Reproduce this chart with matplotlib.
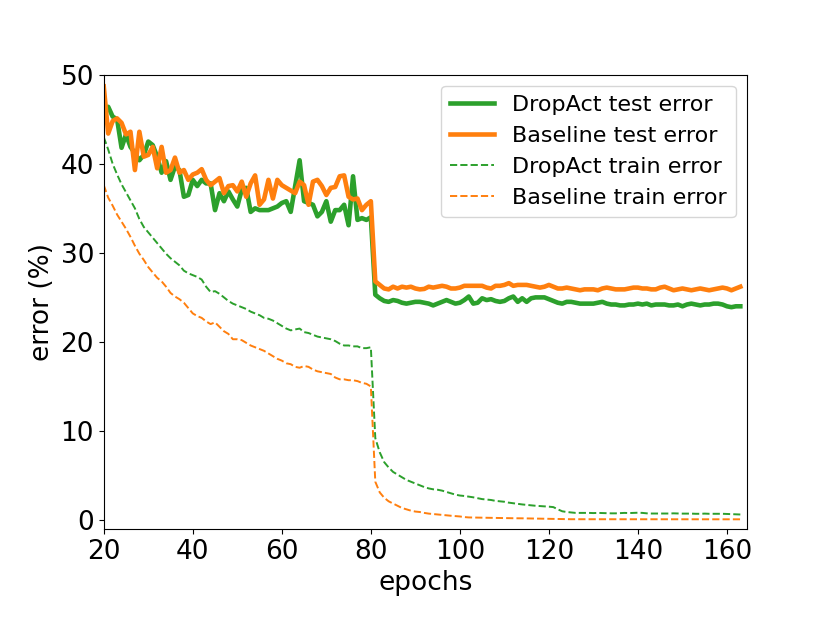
import matplotlib
matplotlib.use("Agg")
import matplotlib.pyplot as plt
import numpy as np

epochs = list(range(20, 164))

dropact_test = [
    45.5, 46.4, 45.3, 45.0, 41.8, 43.3, 41.9, 41.2, 40.4, 41.0,
    42.5, 42.1, 40.8, 39.0, 40.3, 38.2, 39.7, 39.3, 36.3, 36.5,
    38.2, 37.5, 38.2, 37.8, 37.8, 34.8, 36.7, 35.8, 36.9, 36.0,
    35.2, 37.1, 37.3, 34.6, 35.0, 34.8, 34.8, 34.8, 35.0, 35.2,
    35.6, 35.8, 34.6, 37.5, 40.4, 35.8, 35.6, 35.4, 34.1, 34.6,
    35.8, 33.5, 34.8, 34.8, 35.4, 33.1, 38.6, 33.7, 33.9, 33.7,
    34.0,
    25.3, 24.9, 24.6, 24.5, 24.7, 24.6, 24.4, 24.3, 24.4, 24.5,
    24.5, 24.4, 24.3, 24.1, 24.3, 24.5, 24.7, 24.5, 24.3, 24.4,
    24.7, 25.1, 24.3, 24.4, 24.9, 24.7, 24.8, 24.6, 24.5, 24.6,
    24.9, 25.1, 24.5, 24.9, 24.5, 24.9, 25.0, 25.0, 25.0, 24.8,
    24.6, 24.4, 24.3, 24.5, 24.5, 24.4, 24.3, 24.3, 24.3, 24.3,
    24.4, 24.5, 24.3, 24.2, 24.2, 24.1, 24.1, 24.2, 24.2, 24.3,
    24.2, 24.3, 24.1, 24.2, 24.2, 24.2, 24.1, 24.1, 24.2, 24.0,
    24.2, 24.3, 24.2, 24.1, 24.2, 24.2, 24.3, 24.3, 24.2, 24.0,
    23.9, 24.0, 24.0,
]

baseline_test = [
    48.7, 43.4, 44.8, 45.1, 44.6, 43.3, 43.6, 39.3, 43.6, 40.8,
    41.0, 41.9, 39.5, 41.9, 39.0, 39.3, 40.7, 39.0, 39.3, 38.2,
    38.8, 39.0, 39.4, 38.2, 37.6, 38.0, 38.4, 36.7, 37.5, 37.6,
    36.9, 38.0, 36.3, 37.8, 38.7, 35.4, 36.0, 38.2, 36.1, 38.2,
    37.6, 37.3, 37.0, 36.7, 38.0, 37.6, 35.4, 38.0, 38.2, 37.5,
    36.5, 37.3, 37.4, 38.6, 38.7, 36.3, 36.0, 36.1, 34.8, 35.4,
    35.8,
    26.8, 26.4, 26.0, 25.9, 26.2, 26.0, 26.2, 26.1, 26.2, 26.0,
    25.9, 25.95, 26.2, 26.1, 26.2, 26.3, 26.2, 26.0, 26.0, 26.1,
    26.3, 26.3, 26.3, 26.3, 26.3, 26.1, 26.0, 26.3, 26.3, 26.4,
    26.6, 26.3, 26.4, 26.4, 26.4, 26.3, 26.2, 26.1, 26.2, 26.4,
    26.2, 26.0, 26.0, 26.1, 26.0, 25.9, 25.8, 25.9, 25.9, 25.9,
    25.8, 26.0, 26.1, 26.0, 25.9, 25.9, 25.9, 26.0, 26.1, 26.1,
    26.0, 26.0, 25.9, 25.9, 26.1, 26.2, 26.0, 25.8, 25.9, 26.0,
    25.9, 25.8, 25.9, 26.0, 25.9, 25.8, 25.9, 26.0, 26.1, 26.0,
    25.8, 26.0, 26.2,
]

dropact_train = [
    43.0, 41.6, 40.0, 38.8, 37.7, 36.8, 35.9, 35.0, 33.8, 32.9,
    32.3, 31.7, 31.1, 30.5, 29.9, 29.4, 29.0, 28.6, 28.0, 27.7,
    27.5, 27.3, 27.0, 26.2, 25.6, 25.7, 25.4, 25.0, 24.6, 24.3,
    24.1, 23.9, 23.7, 23.4, 23.2, 23.0, 22.7, 22.6, 22.4, 22.1,
    21.8, 21.5, 21.3, 21.4, 21.5, 21.1, 21.0, 20.8, 20.6, 20.5,
    20.4, 20.3, 20.1, 19.8, 19.6, 19.6, 19.5, 19.5, 19.3, 19.3,
    19.4,
    9.2, 7.6, 6.5, 5.9, 5.4, 5.1, 4.8, 4.5, 4.3, 4.1,
    3.9, 3.7, 3.55, 3.45, 3.4, 3.3, 3.15, 3.0, 2.85, 2.75,
    2.7, 2.63, 2.55, 2.45, 2.35, 2.3, 2.25, 2.15, 2.1, 2.05,
    1.95, 1.88, 1.8, 1.75, 1.7, 1.65, 1.6, 1.57, 1.53, 1.5,
    1.45, 1.2, 0.98, 0.9, 0.85, 0.8, 0.8, 0.8, 0.8, 0.78,
    0.8, 0.78, 0.75, 0.75, 0.75, 0.78, 0.8, 0.78, 0.8, 0.82,
    0.8, 0.75, 0.73, 0.73, 0.73, 0.72, 0.73, 0.75, 0.73, 0.72,
    0.72, 0.72, 0.7, 0.7, 0.72, 0.7, 0.7, 0.7, 0.7, 0.68,
    0.65, 0.63, 0.62,
]

baseline_train = [
    37.6, 36.2, 35.3, 34.3, 33.5, 32.7, 31.8, 30.8, 29.9, 29.2,
    28.4, 27.8, 27.2, 26.8, 26.2, 25.5, 25.1, 24.8, 24.4, 23.8,
    23.2, 22.9, 22.7, 22.3, 22.0, 22.2, 21.7, 21.2, 20.9, 20.3,
    20.3, 20.2, 19.9, 19.6, 19.4, 19.2, 19.0, 18.7, 18.4, 18.1,
    17.9, 17.6, 17.5, 17.2, 17.1, 17.3, 17.2, 16.9, 16.7, 16.6,
    16.5, 16.4, 16.0, 15.8, 15.8, 15.7, 15.7, 15.6, 15.4, 15.3,
    15.0,
    4.3, 3.1, 2.5, 2.1, 1.85, 1.6, 1.35, 1.2, 1.05, 0.95,
    0.9, 0.8, 0.72, 0.67, 0.62, 0.57, 0.52, 0.48, 0.44, 0.4,
    0.33, 0.29, 0.28, 0.27, 0.26, 0.25, 0.25, 0.24, 0.23, 0.22,
    0.21, 0.2, 0.2, 0.19, 0.18, 0.17, 0.16, 0.15, 0.14, 0.12,
    0.11, 0.1, 0.1, 0.09, 0.09, 0.09, 0.09, 0.09, 0.09, 0.08,
    0.08, 0.08, 0.08, 0.08, 0.08, 0.08, 0.08, 0.08, 0.08, 0.08,
    0.08, 0.08, 0.08, 0.08, 0.08, 0.08, 0.08, 0.08, 0.08, 0.08,
    0.08, 0.08, 0.08, 0.08, 0.08, 0.08, 0.08, 0.08, 0.08, 0.08,
    0.08, 0.08, 0.08,
]

fig = plt.figure(figsize=(8.3, 6.23), dpi=100)
ax = fig.add_axes([0.125, 0.151, 0.775, 0.729])

green = "#2ca02c"
orange = "#ff7f0e"

ax.plot(epochs, dropact_test, color=green, lw=3.3, label="DropAct test error")
ax.plot(epochs, baseline_test, color=orange, lw=3.3, label="Baseline test error")
ax.plot(epochs, dropact_train, color=green, lw=1.4, ls="--", label="DropAct train error")
ax.plot(epochs, baseline_train, color=orange, lw=1.4, ls="--", label="Baseline train error")

ax.set_xlim(20, 164.5)
ax.set_ylim(-1, 50)
ax.set_xticks([20, 40, 60, 80, 100, 120, 140, 160])
ax.set_yticks([0, 10, 20, 30, 40, 50])
ax.tick_params(labelsize=19)
ax.set_xlabel("epochs", fontsize=19)
ax.set_ylabel("error (%)", fontsize=19)
ax.legend(loc="upper right", fontsize=16)

fig.savefig("out.png", dpi=100)
